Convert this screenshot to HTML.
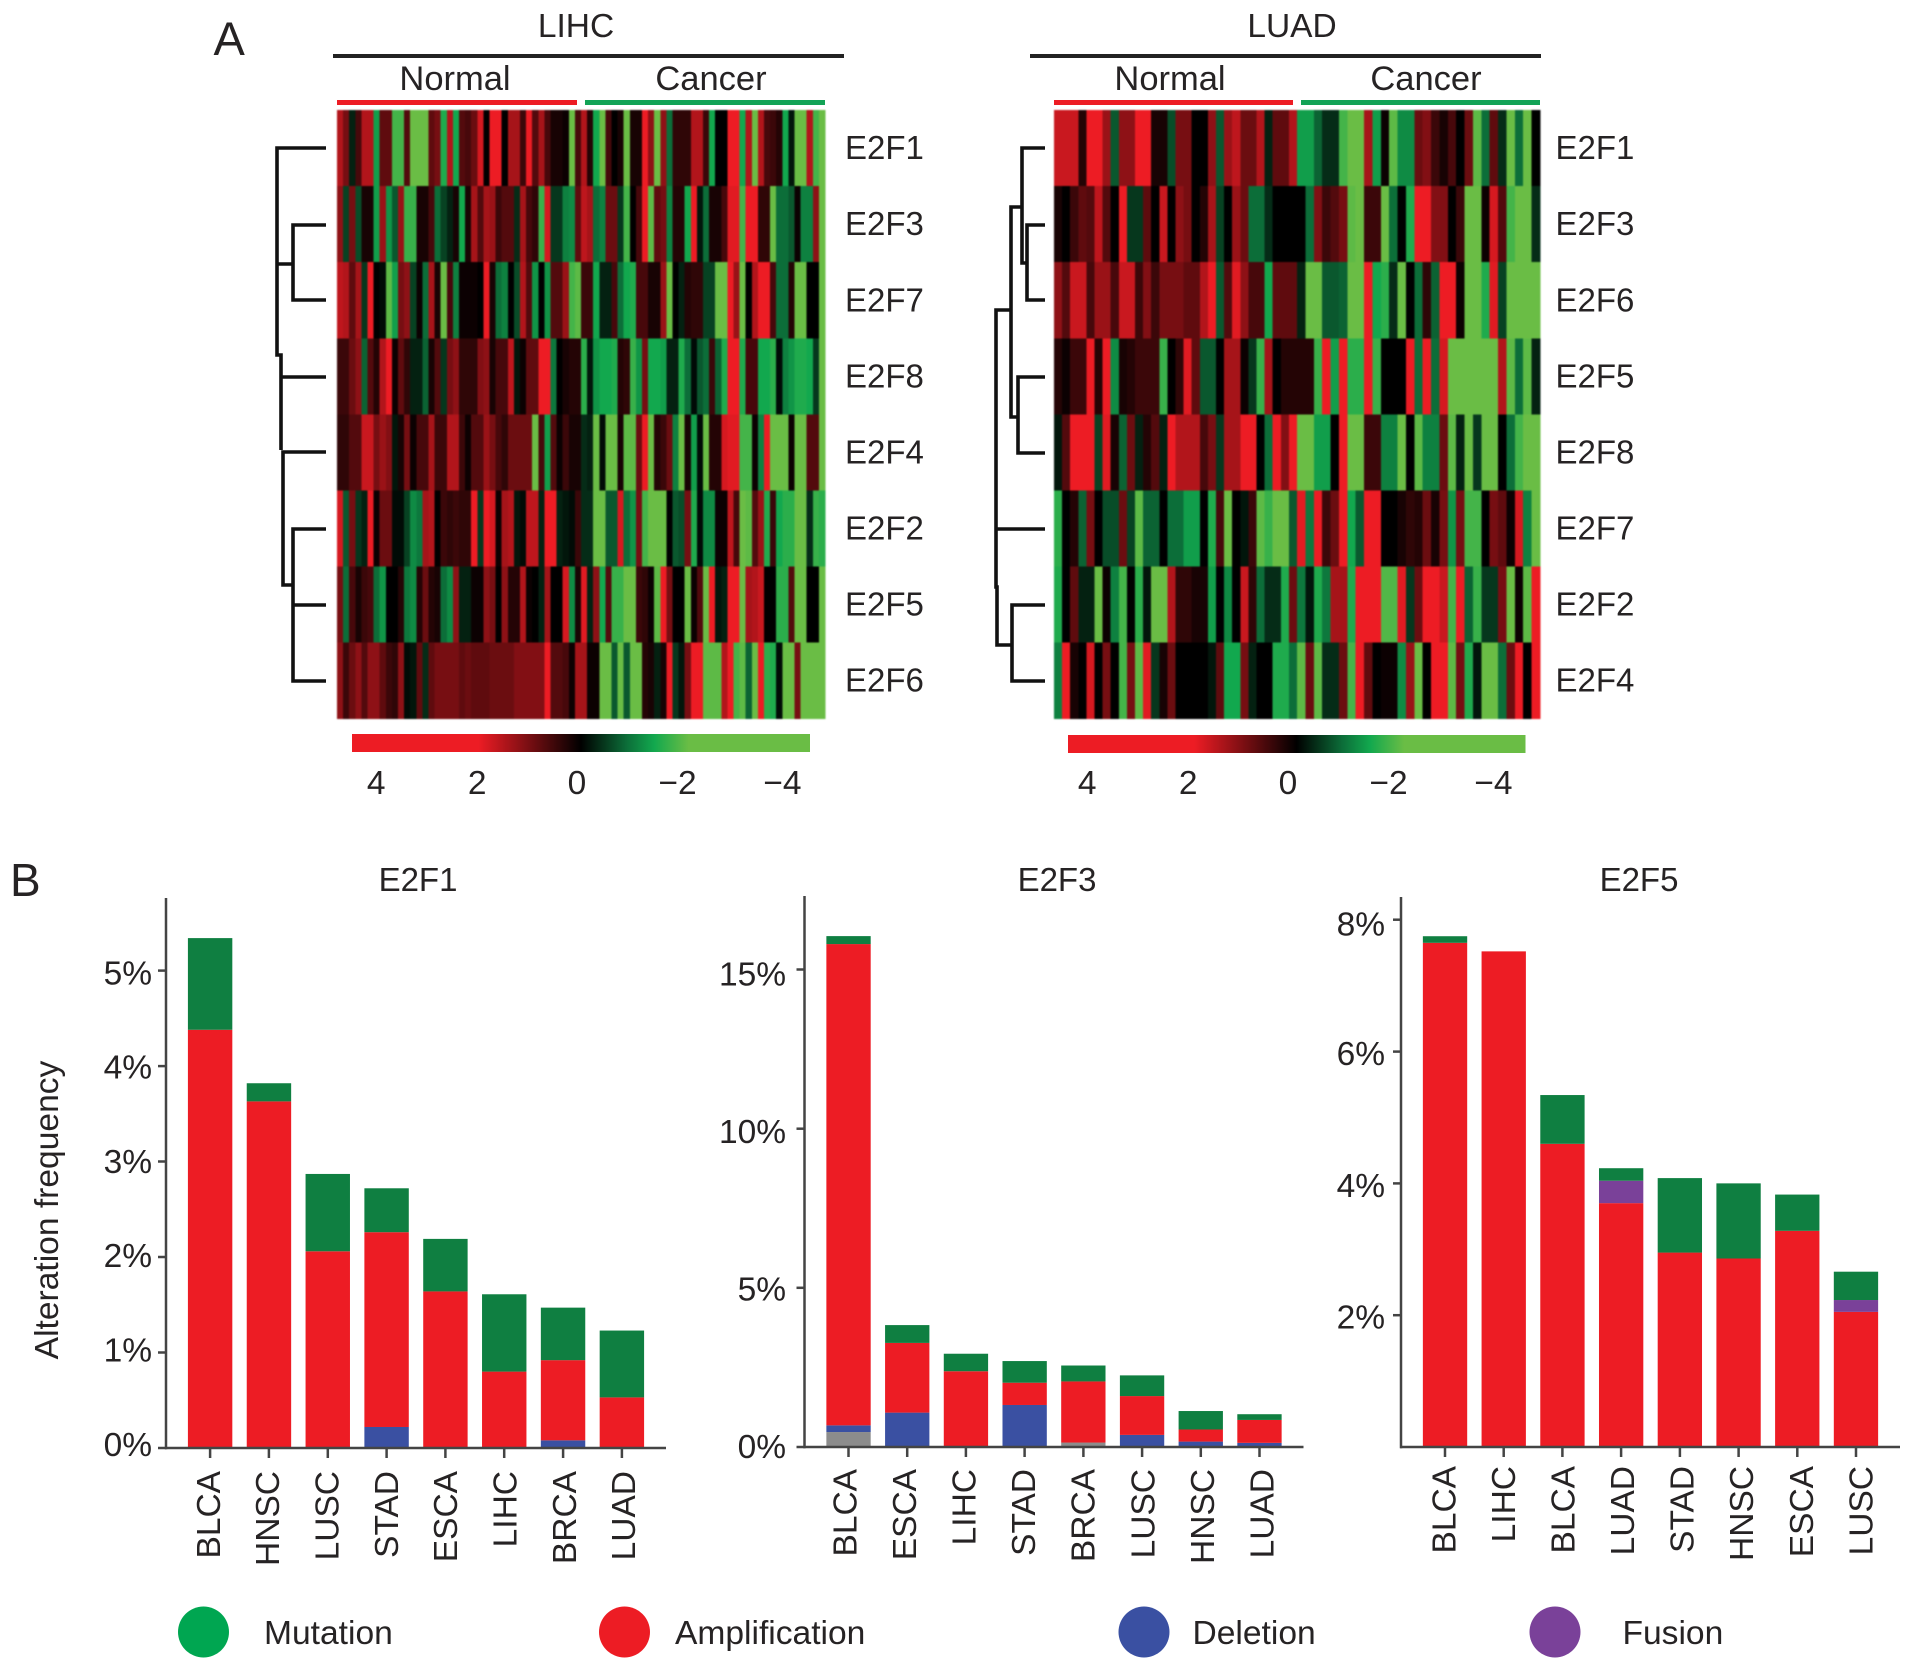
<!DOCTYPE html>
<html lang="en">
<head>
<meta charset="utf-8">
<title>E2F expression heatmaps and alteration frequency</title>
<style>
html,body{margin:0;padding:0;background:#fff;}
svg{display:block;font-family:"Liberation Sans",sans-serif;fill:#262324;}
.soft{filter:blur(0.7px);}
</style>
</head>
<body>
<svg id="figure" xmlns="http://www.w3.org/2000/svg" width="1913" height="1672" viewBox="0 0 1913 1672">
  <defs>
    <linearGradient id="scale-gradient" x1="0" x2="1" y1="0" y2="0">
      <stop offset="0" stop-color="#ed1c24"/>
      <stop offset="0.276" stop-color="#ed1c24"/>
      <stop offset="0.5" stop-color="#000"/>
      <stop offset="0.6" stop-color="#0c6e39"/>
      <stop offset="0.66" stop-color="#12a84e"/>
      <stop offset="0.735" stop-color="#6abd45"/>
      <stop offset="1" stop-color="#6abd45"/>
    </linearGradient>
  </defs>

  <text x="213.500" y="55" font-size="47">A</text>
  <text x="10" y="896" font-size="46">B</text>

  <text x="576" y="37" font-size="33.500" text-anchor="middle">LIHC</text>
  <rect x="333" y="54" width="511" height="4" fill="#222"/>
  <text x="455" y="90" font-size="34.500" text-anchor="middle">Normal</text>
  <text x="711" y="90" font-size="34.500" text-anchor="middle">Cancer</text>
  <rect x="337" y="100" width="240" height="5" fill="#ed1c24"/>
  <rect x="585" y="100" width="240" height="5" fill="#12a356"/>

  <text x="1292" y="37" font-size="33.500" text-anchor="middle">LUAD</text>
  <rect x="1030" y="54" width="511" height="4" fill="#222"/>
  <text x="1170" y="90" font-size="34.500" text-anchor="middle">Normal</text>
  <text x="1426" y="90" font-size="34.500" text-anchor="middle">Cancer</text>
  <rect x="1054" y="100" width="239" height="5" fill="#ed1c24"/>
  <rect x="1301" y="100" width="239" height="5" fill="#12a356"/>

  <path fill="none" stroke="#111" stroke-width="3.600"
    d="M326 148H277V355H281V450M277 264H293M326 225H293V300H326M326 377H282M326 452H283V585H293M326 529H293V681H326M326 605H293"/>
  <path fill="none" stroke="#111" stroke-width="3.600"
    d="M1045 148H1022V263H1027M1045 225H1027V300H1045M1022 207H1011V417H1018M1045 377H1018V453H1045M1011 310H996V587H997V645H1012M996 529H1045M1045 605H1012V681H1045"/>

  <g id="heatmaps"></g>

  <rect x="352" y="734" width="458" height="18" fill="url(#scale-gradient)"/>
  <rect x="1068" y="735" width="457.500" height="18" fill="url(#scale-gradient)"/>
  <g id="scales"></g>

  <g id="bars"></g>

  <text transform="translate(58 1210) rotate(-90)" font-size="33.600" text-anchor="middle">Alteration frequency</text>

  <g>
    <circle cx="203.500" cy="1632" r="25.500" fill="#00a651"/>
    <text x="264" y="1644" font-size="33.600">Mutation</text>
    <circle cx="624.500" cy="1632" r="25.500" fill="#ed1c24"/>
    <text x="675" y="1644" font-size="33.600">Amplification</text>
    <circle cx="1144" cy="1632" r="25.500" fill="#3a50a2"/>
    <text x="1192.500" y="1644" font-size="33.600">Deletion</text>
    <circle cx="1555" cy="1632" r="25.500" fill="#7a4199"/>
    <text x="1622.500" y="1644" font-size="33.600">Fusion</text>
  </g>
</svg>

<script>
// ---------- Heatmap data (log-scale expression) ----------
const lihcGenes = ['E2F1','E2F3','E2F7','E2F8','E2F4','E2F2','E2F5','E2F6'];
const luadGenes = ['E2F1','E2F3','E2F6','E2F5','E2F8','E2F7','E2F2','E2F4'];

const lihcE2F1 = [1.5,1,-.3,.6,1.5,1.5,-1.5,.8,.8,-2,-2,.7,-2.6,-2.8,-2.5,.8,1,-1.7,1.5,-1.6,.7,.6,.9,1.8,0,2.5,2.5,0,1.4,1.4,.5,2,.7,1.4,.6,.2,.2,.1,-3,.6,
  1.5,.3,-1.6,-2.6,.6,0,.2,-2.8,.2,.2,2.5,1.2,-2.6,1.2,-1,.4,.4,.4,1.5,1.5,.5,-1.6,0,0,2.5,2,-1.6,1.5,-2.6,1.5,.6,.5,.3,-1.6,-.2,-3,-3,1.5,-2,-2.4];
const lihcE2F3 = [1.2,-.6,1,-.7,.2,.2,-1.5,1.3,-1.4,-.8,1.3,-1.9,-1.9,.2,.2,.6,-1,-.6,-.3,.2,-1.6,.2,1.4,.7,1.4,1.3,.5,.7,.7,-.4,1.4,.6,.4,-1.9,1.8,-.5,-.5,-1.2,-1.3,.8,
  1.6,1.4,-1,-1.2,.9,.9,-.5,-2,0,.6,2.5,-2.2,.8,1,-1.2,.3,.3,-1.6,2,-.2,-1,.2,.2,.6,1.9,1.9,-2,2.3,2,.4,.4,-2.4,-1,-1,-.8,.1,-1.2,-1.2,1.2,-2.4];
const lihcE2F7 = [1.6,1.5,.8,1.4,-.5,2,0,-.1,-2.2,-1.5,1,1.2,-.6,.1,-1,1.4,.2,-2.5,.6,-1.2,.1,.1,.1,0,2,.2,-1,-1.2,0,-.7,1.5,.7,-1.4,0,-1.4,.7,.7,1.3,-2,-2.2,
  .5,.5,-1.6,-.3,-.3,.6,-1,-1.6,-1.7,.6,.6,.2,.2,1.3,-2.4,0,-.3,.3,.4,.4,-.6,-.6,-2.4,-2.4,2,1.3,-2.4,0,1.5,2,2,.6,-1,-1,.3,-2.5,-2.5,0,0,-2.4];
const lihcE2F8 = [.5,.5,.9,1.2,-.9,.7,.3,1.5,2.2,.1,.8,.4,-.3,-.3,-.9,.2,.7,-.5,1,1.2,.4,.4,.4,1.1,1.2,.2,.6,.6,1.6,-.2,.1,.8,.8,2,2.1,-1.1,0,.2,.3,.3,
  -1.8,-.2,-1.4,-1.6,-1.6,-1.7,.3,.4,-1.9,-1.4,1,-1.6,-1.6,-1.5,-.3,-.3,-1.7,-1,-.1,-.8,-1,.5,-.9,-1.7,2.5,2.5,-1.7,.6,.6,-1.6,-1.6,-1.8,-.1,-1.2,-1.4,-1.7,-1.7,-1.6,-.5,-2.3];
const lihcE2F4 = [.4,.4,.7,.7,1.7,1.7,1,1.3,1.1,-.2,.2,1,.1,.6,.6,1.4,.5,.5,1.5,1.5,.5,.1,.7,.7,1.3,1,.6,.4,.9,.9,.9,.9,-2.5,.6,-1.5,.7,.1,.5,.2,.2,
  -.4,-.3,-2.4,-.1,-2.3,-2.4,.2,-2.2,-2.2,.9,2.3,-2.4,.3,.5,.9,-1.2,-2.5,.2,-1.5,-.1,-2.4,.3,.3,1.8,1.9,1.9,-2,-2,.1,-1.2,2,-2.4,-2.4,-2.4,.1,-2.5,-2.5,.7,.7,-2.5];
const lihcE2F2 = [1.8,-.8,1,-.5,-.3,2,.1,.9,.9,-.1,-.1,-.6,-1.3,-1.1,1.4,1.5,0,.5,.4,.5,.4,.4,2,-.5,2,1.8,.1,1.4,1.5,-.2,-.1,1.6,1.6,-.3,2.5,2.5,-.3,-.2,-.1,.5,
  -.4,-.4,-2.4,-2.4,-.8,-.8,1.8,-1,-1.4,1,-2,-2.5,-2.5,-2.4,0,-.8,-.7,1,-1.7,-.1,-1.3,-1.3,.1,.1,1.6,.6,-2.3,-2.2,.7,1.3,-1.7,.5,-1.6,-1.8,-1.8,-2.3,-2.3,-.4,-1.9,-1.8];
const lihcE2F5 = [1,-1,.6,.2,.5,.6,-1,-1.4,0,0,.3,-1.1,-1.3,.3,.9,.3,.2,-1,-1.3,1.2,-.3,-.3,.1,.1,1.2,1,0,1.2,.3,.3,1.5,.1,0,-.3,1.4,0,0,1.8,-1.3,.2,
  1.9,-.3,1.2,-1.6,.7,-1.9,-1.9,-2.4,-2.4,.5,.4,.1,-2.2,2,1,0,0,-2.4,.1,.7,-2.4,2.3,-.2,-.3,2.5,2.5,-2.4,1.4,1.5,1.7,0,0,-1.8,-1.8,.7,-2.5,-2.5,0,0,-2.5];
const lihcE2F6 = [1.2,.5,.9,1.2,.7,1.2,1.2,.8,.5,.4,1.2,-.1,-.2,.8,-.4,.8,1,1,1,1,.8,.9,.8,.8,.8,.9,.9,.9,.9,1.1,1.1,1.1,1.1,1.1,2.5,.7,.7,.6,.1,1.4,
  1.4,.1,.1,-2.3,-2.3,-.8,-2.3,-.8,-2.5,-2.5,.3,.2,-.3,.2,2.5,-.5,-.2,1,2.5,2.5,-2.2,-2.2,-2.2,1.5,2.5,-2,-2.2,-.9,-2.3,2.5,-1.8,-1.7,-.1,-2.4,-2.3,1,-2.5,-2.5,-2.5,-2.5];

const luadE2F1 = [1.7,1.7,1.7,.3,2,2,1.3,-.8,1.2,1.2,2,2,.2,.2,-.7,1,1,0,0,1.2,-.8,1.3,1.6,.9,.9,1.5,-.3,.8,.8,1.5,
  -1.5,-1.5,-.9,-.4,-.4,-2,-2.4,-2.4,1.4,-1.5,.1,-2.2,-1.3,-1.3,.9,1.1,.5,.2,.6,0,.9,-2.2,-1,.8,-.4,-2.3,-1,-2.3,0];
const luadE2F3 = [.2,0,.5,.8,.7,1.6,.7,0,2.5,-.5,-.5,.8,0,1.7,0,1.2,1,0,.3,1.4,-.6,0,1.3,.9,-1,-1,-.4,0,0,0,
  0,-1,1.1,.5,.7,1,-2.2,-2.3,.5,.5,-2.4,-1,0,-1.7,2.5,2.5,1.1,1.1,0,.5,-2.4,-2.4,.1,1.8,.7,-2,-2.4,-2.4,-.4];
const luadE2F6 = [1.2,.7,1.7,1.7,.6,1.3,1.3,.6,1.7,1.7,.5,1.1,.5,1,1,1,.8,.8,1.5,2.3,-.8,.7,1.9,1.2,.6,.6,-1.6,.8,.8,.8,
  -.3,-2.3,-2.3,-.8,-.8,-.9,-2.4,-2.4,2.5,-1.6,-1.8,-.4,-2.3,0,-1,.4,-.9,2.2,2.2,.1,-2.4,-2.4,-1.7,1.9,-.6,-2.5,-2.5,-2.5,-2.5];
const luadE2F5 = [.3,.1,.5,.5,2.2,.3,2.2,-1.3,.2,.3,.5,.5,.5,-1.9,0,.4,1.9,.8,-.8,-.8,0,1.4,1.4,.1,-.5,-1.9,1.4,0,.3,.3,
  .3,.3,-1.9,2.5,-1.5,2.5,-1.8,-1.8,2.4,-1.9,0,0,0,2,-1,2.5,-1,1.8,-2.5,-2.5,-2.5,-2.5,-2.5,-2.5,1.5,-2.2,-1,-2.2,-.3];
const luadE2F8 = [-.2,.7,2.5,2.5,2.5,-.6,1.9,.2,-.9,.9,-.3,.3,.7,-.3,2.2,1.5,1.5,1.5,.6,1,-.5,1.4,1.4,2,2,0,-1,2,1.1,2.2,
  -2.4,-2.4,-1.5,-1.5,0,2.3,-2.3,-2.3,.5,.5,-1.2,-1.2,-2.3,0,-2.2,-1.2,-1.2,.9,-2.2,-.3,-2.3,-.5,-2.4,-2.4,0,-1,-2,-2.3,-2.4];
const luadE2F7 = [-1.8,0,.3,-.9,1,0,-.7,-.7,.9,-.6,-2.2,-.9,-.9,0,-1,-1,-1.5,-1.5,0,-1.7,.6,-2.6,0,-.2,.5,-2.2,-1.9,-2.6,-2.6,-.8,
  1.9,-1.1,2.1,.5,.9,2.5,-1.6,-.8,2.4,2.4,0,0,.2,.4,.3,.9,.2,1,-1.4,1,-2,-2,0,1,.8,.1,1.8,-1.2,-2.3];
const luadE2F2 = [-1.7,0,.8,-.3,-.3,-2.3,.1,-1.2,-2,0,-1.8,-.2,-2.4,-2.4,1.5,.4,.4,.2,.2,-1.5,0,-1.3,0,1.7,.4,-1,-.4,-.4,-1.7,.9,
  -1.1,-.2,-1.7,-1.1,1.4,1.4,-1.7,2.4,2.4,2.4,-2.1,-2.1,1.9,-.5,.9,2.5,2.5,1.7,-2,2.1,-.9,-1.9,-.5,-.5,1,-2.3,.1,-2.2,2.5];
const luadE2F4 = [-1.2,2.4,.2,0,1.8,0,1,0,-2,1,-2.2,1.9,-.5,.2,.9,0,0,0,0,-.2,.8,-1.6,-1.6,1,-.3,0,0,-1.7,-1.7,-1,
  -2.2,.9,-2.2,-.4,-.4,.9,-2,2,.8,0,.1,.1,-1.3,1.3,-2.3,0,2.5,2.5,-2.2,1,-1.7,-.2,-2.4,-2.4,-1,.9,2.3,0,2.5];

const lihcRows = [lihcE2F1,lihcE2F3,lihcE2F7,lihcE2F8,lihcE2F4,lihcE2F2,lihcE2F5,lihcE2F6];
const luadRows = [luadE2F1,luadE2F3,luadE2F6,luadE2F5,luadE2F8,luadE2F7,luadE2F2,luadE2F4];
const lihcNormalCount = 40;
const luadNormalCount = 30;

const scaleTicks = [4,2,0,-2,-4];

// ---------- Bar chart data (percent alteration frequency) ----------
const e2f1Categories = ['BLCA','HNSC','LUSC','STAD','ESCA','LIHC','BRCA','LUAD'];
const e2f1Other        = [0,0,0,0,0,0,0,0];
const e2f1Deletion     = [0,0,0,.22,0,0,.08,0];
const e2f1Amplification= [4.38,3.63,2.06,2.04,1.64,.8,.84,.53];
const e2f1Fusion       = [0,0,0,0,0,0,0,0];
const e2f1Mutation     = [.96,.19,.81,.46,.55,.81,.55,.7];
const e2f1Ticks = [0,1,2,3,4,5];

const e2f3Categories = ['BLCA','ESCA','LIHC','STAD','BRCA','LUSC','HNSC','LUAD'];
const e2f3Other        = [.47,0,0,0,.14,0,0,0];
const e2f3Deletion     = [.21,1.08,0,1.32,0,.38,.17,.13];
const e2f3Amplification= [15.12,2.19,2.38,.7,1.92,1.22,.38,.72];
const e2f3Fusion       = [0,0,0,0,0,0,0,0];
const e2f3Mutation     = [.25,.56,.55,.68,.5,.65,.58,.18];
const e2f3Ticks = [0,5,10,15];

const e2f5Categories = ['BLCA','LIHC','BLCA','LUAD','STAD','HNSC','ESCA','LUSC'];
const e2f5Other        = [0,0,0,0,0,0,0,0];
const e2f5Deletion     = [0,0,0,0,0,0,0,0];
const e2f5Amplification= [7.65,7.52,4.6,3.7,2.95,2.86,3.28,2.05];
const e2f5Fusion       = [0,0,0,.34,0,0,0,.18];
const e2f5Mutation     = [.1,0,.74,.19,1.13,1.14,.55,.43];
const e2f5Ticks = [2,4,6,8];

// ---------- Drawing ----------
const NS = 'http://www.w3.org/2000/svg';
function make(tag, parent, attrs) {
  const el = document.createElementNS(NS, tag);
  for (const k in attrs) el.setAttribute(k, attrs[k]);
  parent.appendChild(el);
  return el;
}
function mix(a, b, t) {
  return [0,1,2].map(i => Math.round(a[i] + (b[i] - a[i]) * t));
}
function valueColor(v) {
  let c;
  if (v >= 0) {
    c = mix([0,0,0], [237,28,36], Math.min(v / 2, 1));
  } else {
    const m = -v;
    if (m <= 1) c = mix([0,0,0], [12,110,57], m);
    else if (m <= 1.6) c = mix([12,110,57], [18,168,78], (m - 1) / .6);
    else c = mix([18,168,78], [106,189,69], Math.min((m - 1.6) / .7, 1));
  }
  return 'rgb(' + c.join(',') + ')';
}

function drawHeatmap(root, key, rows, genes, left, top, rowH, halfW, normalCount, labelX) {
  const g = make('g', root, {'class': 'soft', 'shape-rendering': 'crispEdges'});
  
  
  rows.forEach((row, r) => {
    const rowY = top + r * rowH;
    const cancerCount = row.length - normalCount;
    const colX = i => i <= normalCount
      ? left + i * halfW / normalCount
      : left + halfW + (i - normalCount) * halfW / cancerCount;
    row.forEach((v, i) => {
      const x0 = colX(i);
      const x1 = colX(i + 1);
      const cell = make('rect', g, {x: x0.toFixed(2), y: rowY.toFixed(2), width: (x1 - x0 + .4).toFixed(2), height: (rowH + .4).toFixed(2), fill: valueColor(v)});
      
      
    });
    const label = make('text', root, {x: labelX, y: (rowY + rowH / 2 + 11).toFixed(1), 'font-size': 33});
    label.textContent = genes[r];
    
    
  });
}

const heatRoot = document.getElementById('heatmaps');
drawHeatmap(heatRoot, 'lihc', lihcRows, lihcGenes, 337, 110, 76.1, 244, lihcNormalCount, 845);
drawHeatmap(heatRoot, 'luad', luadRows, luadGenes, 1054, 110, 76.1, 243, luadNormalCount, 1555.5);

const scaleRoot = document.getElementById('scales');
function drawScaleTicks(key, zeroX, unit) {
  scaleTicks.forEach(v => {
    const nudge = v > 0 ? 1.2 : (v === -4 ? 3.4 : (v === -2 ? -.5 : 0));
    const t = make('text', scaleRoot, {x: (zeroX - v * unit + nudge).toFixed(1), y: 794, 'font-size': 33.5, 'text-anchor': 'middle'});
    t.textContent = v < 0 ? '\u2212' + (-v) : String(v);
    
    
  });
}
drawScaleTicks('lihc', 577, 50.5);
drawScaleTicks('luad', 1288, 50.5);

const barRoot = document.getElementById('bars');
const stackColors = {other:'#8c8c8c', deletion:'#3a50a2', amplification:'#ed1c24', fusion:'#7a4199', mutation:'#0f7f41'};

function drawPanel(p) {
  const g = make('g', barRoot, {});
  
  
  const yOf = v => p.y0 - (v / p.max) * (p.y0 - p.top);
  const step = p.w / 8.5;
  const xOf = i => p.left + (i + .75) * step;
  const barW = step * .755;

  const title = make('text', g, {x: p.titleX, y: 891, 'font-size': 33, 'text-anchor': 'middle'});
  title.textContent = p.title;
  
  

  p.categories.forEach((c, i) => {
    let acc = 0;
    const stack = [['other', p.other[i]], ['deletion', p.deletion[i]], ['amplification', p.amplification[i]], ['fusion', p.fusion[i]], ['mutation', p.mutation[i]]];
    stack.forEach(s => {
      if (s[1] <= 0) return;
      const yTop = yOf(acc + s[1]);
      const yBot = yOf(acc);
      const rect = make('rect', g, {x: (xOf(i) - barW / 2).toFixed(2), y: yTop.toFixed(2), width: barW.toFixed(2), height: (yBot - yTop).toFixed(2), fill: stackColors[s[0]]});
      
      
      acc += s[1];
    });
    const tick = make('line', g, {x1: xOf(i).toFixed(1), x2: xOf(i).toFixed(1), y1: p.y0, y2: p.y0 + 10, stroke: '#444', 'stroke-width': 2.5});
    
    
    const bx = xOf(i) + 11.5 + p.labelStart + i * p.labelSpread;
    const label = make('text', g, {transform: 'translate(' + bx.toFixed(1) + ' ' + p.labelTop + ') rotate(-90)', 'font-size': 33.5, 'text-anchor': 'end'});
    label.textContent = c;
    
    
  });

  p.ticks.forEach(v => {
    const y = yOf(v);
    const tick = make('line', g, {x1: p.left - 8, x2: p.left, y1: y.toFixed(1), y2: y.toFixed(1), stroke: '#444', 'stroke-width': 2.5});
    
    
    const label = make('text', g, {x: p.left - p.tickGap, y: (y + 9 + p.tickShift(v)).toFixed(1), 'font-size': 33.5, 'text-anchor': 'end'});
    label.textContent = v + '%';
    
    
  });

  const yAxis = make('line', g, {x1: p.left, x2: p.left, y1: p.top, y2: p.y0 + 1.2, stroke: '#444', 'stroke-width': 2.5});
  
  
  const xAxis = make('line', g, {x1: p.left - 1, x2: p.left + p.w, y1: p.y0, y2: p.y0, stroke: '#444', 'stroke-width': 2.5});
  
  
}

drawPanel({key:'e2f1', title:'E2F1', titleX:418, left:166, w:500, y0:1448, top:898, max:5.76, labelTop:1471, labelStart:-1.8, labelSpread:.5, tickGap:14, tickShift:v => (v - 1) * 1.2,
  categories:e2f1Categories, other:e2f1Other, deletion:e2f1Deletion, amplification:e2f1Amplification, fusion:e2f1Fusion, mutation:e2f1Mutation, ticks:e2f1Ticks});
drawPanel({key:'e2f3', title:'E2F3', titleX:1057, left:804.500, w:499, y0:1447, top:896, max:17.31, labelTop:1469, labelStart:-3.6, labelSpread:.86, tickGap:18.5, tickShift:v => 2 + v * .33,
  categories:e2f3Categories, other:e2f3Other, deletion:e2f3Deletion, amplification:e2f3Amplification, fusion:e2f3Fusion, mutation:e2f3Mutation, ticks:e2f3Ticks});
drawPanel({key:'e2f5', title:'E2F5', titleX:1639, left:1401, w:499, y0:1447, top:897, max:8.345, labelTop:1466, labelStart:-1.2, labelSpread:.87, tickGap:16, tickShift:v => (v === 8 ? 7 : 4.5),
  categories:e2f5Categories, other:e2f5Other, deletion:e2f5Deletion, amplification:e2f5Amplification, fusion:e2f5Fusion, mutation:e2f5Mutation, ticks:e2f5Ticks});
</script>
</body>
</html>
